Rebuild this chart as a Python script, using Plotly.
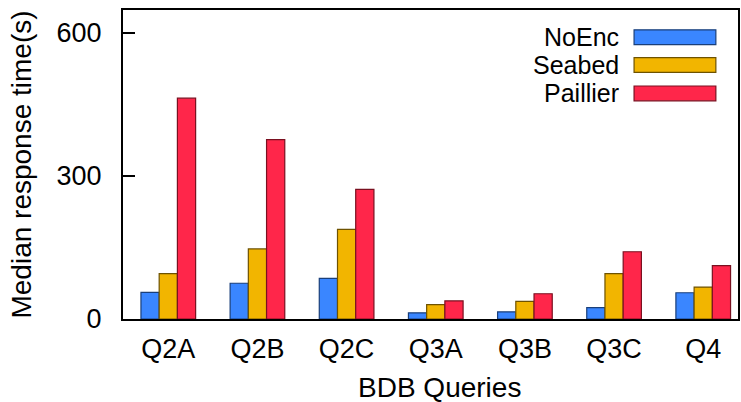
import plotly.graph_objects as go

# BDB query benchmark: median response time per encryption scheme
queries = ["Q2A", "Q2B", "Q2C", "Q3A", "Q3B", "Q3C", "Q4"]
noenc = [56, 75, 85, 13, 15, 24, 55]
seabed = [95, 147, 188, 30, 37, 95, 67]
paillier = [463, 376, 272, 38, 53, 141, 112]

series_names = ["NoEnc", "Seabed", "Paillier"]
series_values = [noenc, seabed, paillier]
series_colors = ["#3a86ff", "#f2b500", "#ff264a"]
series_edges = ["#1a3f7a", "#6e5200", "#7a1020"]

y_ticks = [0, 300, 600]

FONT = "Liberation Sans, Arial, Helvetica, sans-serif"

fig = go.Figure()
for name, vals, col, edge in zip(series_names, series_values, series_colors, series_edges):
    fig.add_trace(go.Bar(
        x=queries, y=vals, name=name,
        marker=dict(color=col, line=dict(color=edge, width=1.2)),
        showlegend=False,
    ))

# hand-drawn key in the upper right: label, then a wide swatch
row_y = [0.912, 0.822, 0.730]
for name, col, edge, yy in zip(series_names, series_colors, series_edges, row_y):
    fig.add_annotation(
        xref="paper", yref="paper", x=0.81, y=yy,
        text=name, showarrow=False, xanchor="right", yanchor="middle",
        font=dict(family=FONT, size=25, color="black"),
    )
    fig.add_shape(
        type="rect", xref="paper", yref="paper",
        x0=0.831, x1=0.964, y0=yy - 0.024, y1=yy + 0.024,
        fillcolor=col, line=dict(color=edge, width=1.2),
    )

fig.add_annotation(
    xref="paper", yref="paper", x=0.514, y=-0.222,
    text="BDB Queries", showarrow=False, xanchor="center", yanchor="middle",
    font=dict(family=FONT, size=28, color="black"),
)

fig.update_layout(
    width=741, height=402,
    margin=dict(l=123, r=1, t=10, b=83),
    paper_bgcolor="white", plot_bgcolor="white",
    barmode="group", bargap=0.387, bargroupgap=0,
    font=dict(family=FONT, size=26, color="black"),
)
fig.update_xaxes(
    range=[-0.508, 6.39], showline=True, linecolor="black", linewidth=2,
    mirror=True, ticks="", showgrid=False, ticklabelstandoff=5,
    tickfont=dict(family=FONT, size=27, color="black"),
)
fig.update_yaxes(
    range=[0, 648], tickvals=y_ticks, ticktext=[str(v) for v in y_ticks],
    showline=True, linecolor="black", linewidth=2, mirror=True,
    ticks="inside", ticklen=12, tickwidth=1.5, tickcolor="black",
    showgrid=False, zeroline=False, ticklabelstandoff=14,
    tickfont=dict(family=FONT, size=27, color="black"),
    title=dict(text="Median response time(s)", font=dict(family=FONT, size=28, color="black"), standoff=17),
)

fig.write_html("out.html")
